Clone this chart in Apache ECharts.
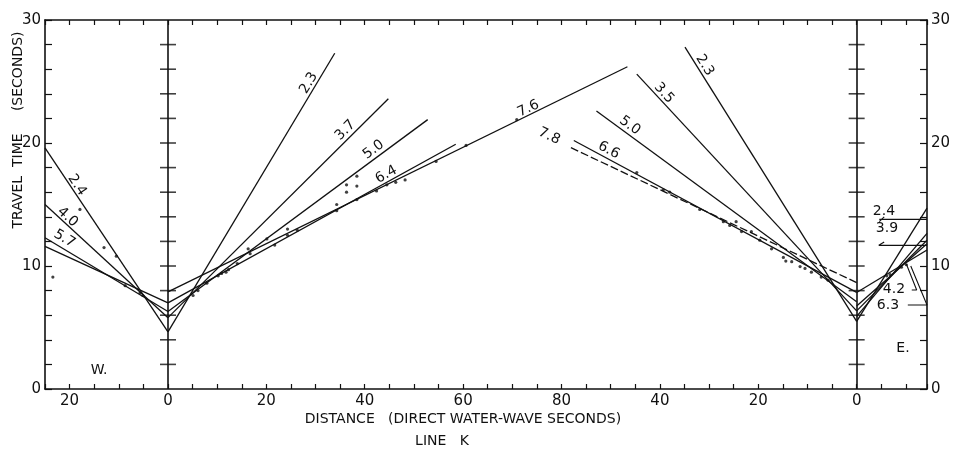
<!DOCTYPE html>
<html>
<head>
<meta charset="utf-8">
<script src="https://cdn.jsdelivr.net/npm/echarts@6/dist/echarts.min.js"></script>
<style>
  html, body { margin: 0; padding: 0; background: #fff; }
  #chart { width: 954px; height: 450px; }
</style>
</head>
<body>
<div id="chart"></div>
<script>
// Line K travel-time profile. Distances are in direct water-wave seconds,
// measured from the W shot point (0) and from the E shot point (140 further on).
const SHOT_W = 0;
const SHOT_E = 140;

// West branch (recorded west of the W shot point), ends at the plot edge (25 s)
const westVelocity  = ['2.4', '4.0', '5.7', ''];
const westIntercept = [4.65, 5.8, 6.3, 7.0];
const westEndDist   = [25, 25, 25, 25];
const westEndTime   = [19.6, 15.0, 12.3, 11.6];

// Forward branch from the W shot point, towards the east
const fwdVelocity  = ['2.3', '3.7', '5.0', '6.4', '7.6'];
const fwdIntercept = [4.65, 5.8, 6.3, 7.0, 7.9];
const fwdEndDist   = [33.9, 44.8, 52.8, 58.5, 93.4];
const fwdEndTime   = [27.3, 23.6, 21.9, 19.9, 26.2];

// Reverse branch from the E shot point, towards the west (last one dashed)
const revVelocity  = ['2.3', '3.5', '5.0', '6.6', '7.8'];
const revIntercept = [5.5, 6.35, 7.1, 7.85, 8.65];
const revEndDist   = [34.9, 44.7, 52.9, 57.5, 58.5];
const revEndTime   = [27.8, 25.6, 22.6, 20.2, 19.7];

// East branch (recorded east of the E shot point), ends at the plot edge
const eastVelocity  = ['2.4', '', '3.9', '4.2', '6.3'];
const eastIntercept = [5.5, 5.9, 6.35, 6.75, 7.85];
const eastEndDist   = [14.3, 14.3, 14.3, 14.3, 14.3];
const eastEndTime   = [14.7, 12.65, 12.1, 11.8, 11.3];

// Observed arrivals: [distance from own shot point, travel time]
const westDots = [[23.4, 9.1], [17.9, 14.6], [13.0, 11.5], [10.5, 10.8], [8.7, 8.4],
  [5.7, 7.8], [5.1, 7.6]];
const fwdDots = [[5.1, 7.6], [6.1, 8.0], [7.9, 8.6], [10.2, 9.2], [10.9, 9.4], [11.8, 9.5],
  [12.3, 9.7], [14.1, 10.2], [16.3, 11.4], [16.7, 11.0], [20.1, 12.2], [21.7, 11.7],
  [24.3, 13.0], [24.3, 12.5], [26.3, 12.9], [34.3, 15.0], [34.3, 14.5], [36.3, 16.6],
  [36.3, 16.0], [38.4, 17.3], [38.4, 16.5], [38.4, 15.4], [42.4, 16.1], [44.5, 16.6],
  [46.3, 16.8], [48.2, 17.0], [54.5, 18.5], [60.6, 19.8], [70.9, 21.9]];
const revDots = [[44.7, 17.6], [39.3, 16.2], [38.0, 16.0], [31.9, 14.6], [27.1, 13.6],
  [25.8, 13.3], [24.5, 13.6], [23.4, 12.8], [21.4, 12.8], [19.7, 12.1], [17.3, 11.4],
  [14.9, 10.7], [14.4, 10.4], [13.2, 10.35], [11.5, 9.95], [10.5, 9.8], [9.2, 9.5],
  [7.2, 9.1], [5.8, 8.85]];
const eastDots = [[6.1, 9.2], [6.8, 9.3], [9.1, 9.9], [10.1, 10.1]];

// Bottom axis tick labels
const xTickPos   = [-20, 0, 20, 40, 60, 80, 100, 120, 140];
const xTickLabel = ['20', '0', '20', '40', '60', '80', '40', '20', '0'];
const yTickLabel = [0, 10, 20, 30];

// Position of each velocity label along its line: fraction from the left end, offset in px
const westLabelAt = [[0.22, 6], [0.15, 6], [0.12, 9], null];
const fwdLabelAt  = [[0.88, 7], [0.83, 8], [0.81, 8], [0.77, 7], [0.79, 6]];
const revLabelAt  = [[0.08, 7], [0.10, 7], [0.11, 8], [0.11, 8], [-0.07, 1]];

const FONT = '"DejaVu Sans", sans-serif';
const INK = '#111';

// Place each branch on the common distance axis
const toAxisW = d => SHOT_W - d;
const toAxisF = d => SHOT_W + d;
const toAxisR = d => SHOT_E - d;
const toAxisE = d => SHOT_E + d;

const segments = [];   // {from, to, dashed}
const labelItems = []; // [x0, t0, x1, t1, frac, offset]
const labelTexts = [];

function addBranch(vel, icpt, endD, endT, toAxis, origin, labelAt, dashedIdx) {
  vel.forEach((v, i) => {
    const a = [origin, icpt[i]];
    const b = [toAxis(endD[i]), endT[i]];
    segments.push({ from: a, to: b, dashed: i === dashedIdx });
    if (v && labelAt && labelAt[i]) {
      labelItems.push([a[0], a[1], b[0], b[1], labelAt[i][0], labelAt[i][1]]);
      labelTexts.push(v);
    }
  });
}
addBranch(westVelocity, westIntercept, westEndDist, westEndTime, toAxisW, SHOT_W, westLabelAt, -1);
addBranch(fwdVelocity, fwdIntercept, fwdEndDist, fwdEndTime, toAxisF, SHOT_W, fwdLabelAt, -1);
addBranch(revVelocity, revIntercept, revEndDist, revEndTime, toAxisR, SHOT_E, revLabelAt, 4);
addBranch(eastVelocity, eastIntercept, eastEndDist, eastEndTime, toAxisE, SHOT_E, null, -1);

const dots = [].concat(
  westDots.map(p => [toAxisW(p[0]), p[1]]),
  fwdDots.map(p => [toAxisF(p[0]), p[1]]),
  revDots.map(p => [toAxisR(p[0]), p[1]]),
  eastDots.map(p => [toAxisE(p[0]), p[1]])
);

// Leader lines tying the east-side velocity labels to their lines
const eastLeaders = [
  [[144.6, 13.6], [145.6, 14.0]],
  [[144.6, 13.79], [154.3, 13.79]],
  [[145.6, 11.95], [144.5, 11.68], [154.3, 11.68]],
  [[150.1, 10.16], [152.2, 8.05], [151.2, 8.05]],
  [[151.0, 10.0], [154.3, 6.83], [150.4, 6.83]]
];
const eastLabels = [
  { text: '2.4', x: 884, y: 211 },
  { text: '3.9', x: 887, y: 228 },
  { text: '4.2', x: 894, y: 289 },
  { text: '6.3', x: 888, y: 305 }
];

// Cross ticks on the two shot-point verticals, every axis interval
const Y_INTERVAL = 2;
const shotTicks = [];
[SHOT_W, SHOT_E].forEach(x => {
  for (let t = Y_INTERVAL; t < 30; t += Y_INTERVAL) shotTicks.push([x, t]);
});

const series = [];
segments.forEach(s => {
  series.push({
    type: 'line', data: [s.from, s.to], symbol: 'none', silent: true,
    animation: false, clip: true,
    lineStyle: { color: INK, width: 1.3, type: s.dashed ? [8, 3] : 'solid' }
  });
});
eastLeaders.forEach(l => {
  series.push({
    type: 'line', data: l, symbol: 'none', silent: true, animation: false,
    lineStyle: { color: INK, width: 1.1 }
  });
});
series.push({
  type: 'scatter', data: dots, symbol: 'circle', symbolSize: 3.2, silent: true,
  animation: false, itemStyle: { color: INK }
});
series.push({
  type: 'scatter', data: shotTicks, symbol: 'rect', symbolSize: [16, 1.6],
  silent: true, animation: false, itemStyle: { color: INK },
  markLine: {
    silent: true, symbol: 'none', animation: false, label: { show: false },
    lineStyle: { color: INK, width: 1.6, type: 'solid' },
    data: [{ xAxis: SHOT_W }, { xAxis: SHOT_E }]
  }
});
series.push({
  type: 'custom', data: labelItems, silent: true, animation: false, clip: false,
  renderItem: function (params, api) {
    let p0 = api.coord([api.value(0), api.value(1)]);
    let p1 = api.coord([api.value(2), api.value(3)]);
    if (p1[0] < p0[0]) { const tmp = p0; p0 = p1; p1 = tmp; }
    const dx = p1[0] - p0[0], dy = p1[1] - p0[1];
    const len = Math.hypot(dx, dy);
    const ux = dx / len, uy = dy / len;
    const nx = uy, ny = -ux;
    const f = api.value(4), off = api.value(5);
    return {
      type: 'text',
      x: p0[0] + dx * f + nx * off,
      y: p0[1] + dy * f + ny * off,
      rotation: Math.atan2(-dy, dx),
      style: {
        text: labelTexts[params.dataIndex], fill: INK,
        font: '14px ' + FONT, align: 'center', verticalAlign: 'middle'
      }
    };
  }
});

const xCommon = {
  type: 'value', min: -25, max: 154.3, interval: 5,
  axisLine: { show: true, onZero: false, lineStyle: { color: INK, width: 1.6 } },
  axisTick: { show: true, inside: true, length: 5, lineStyle: { color: INK, width: 1.2 } },
  splitLine: { show: false }
};
const yCommon = {
  type: 'value', min: 0, max: 30, interval: Y_INTERVAL,
  axisLine: { show: true, onZero: false, lineStyle: { color: INK, width: 1.6 } },
  axisTick: { show: true, inside: true, length: 7, lineStyle: { color: INK, width: 1.2 } },
  splitLine: { show: false }
};
const yLabel = {
  show: true, color: INK, fontSize: 15, fontFamily: FONT, margin: 4,
  formatter: v => (yTickLabel.indexOf(v) >= 0 ? String(v) : '')
};

const chart = echarts.init(document.getElementById('chart'), null, { renderer: 'canvas' });
chart.setOption({
  backgroundColor: '#fff',
  animation: false,
  grid: { left: 45, right: 27, top: 20, bottom: 61 },
  xAxis: [
    Object.assign({}, xCommon, {
      position: 'bottom',
      axisLabel: {
        show: true, interval: 0, color: INK, fontSize: 15, fontFamily: FONT, margin: 5,
        showMinLabel: true, showMaxLabel: true,
        formatter: v => {
          const i = xTickPos.findIndex(p => Math.abs(p - v) < 1e-6);
          return i >= 0 ? xTickLabel[i] : '';
        }
      }
    }),
    Object.assign({}, xCommon, { position: 'top', axisLabel: { show: false } })
  ],
  yAxis: [
    Object.assign({}, yCommon, { position: 'left', axisLabel: yLabel }),
    Object.assign({}, yCommon, { position: 'right', axisLabel: yLabel })
  ],
  graphic: [
    {
      type: 'text', x: 18, y: 130, rotation: Math.PI / 2,
      style: { text: 'TRAVEL  TIME     (SECONDS)', font: '14px ' + FONT, fill: INK,
               align: 'center', verticalAlign: 'middle' }
    },
    {
      type: 'text', x: 463, y: 419,
      style: { text: 'DISTANCE   (DIRECT WATER-WAVE SECONDS)', font: '14px ' + FONT, fill: INK,
               align: 'center', verticalAlign: 'middle' }
    },
    {
      type: 'text', x: 442, y: 441,
      style: { text: 'LINE   K', font: '14px ' + FONT, fill: INK,
               align: 'center', verticalAlign: 'middle' }
    },
    {
      type: 'text', x: 99, y: 370,
      style: { text: 'W.', font: '14px ' + FONT, fill: INK, align: 'center', verticalAlign: 'middle' }
    },
    {
      type: 'text', x: 903, y: 348,
      style: { text: 'E.', font: '14px ' + FONT, fill: INK, align: 'center', verticalAlign: 'middle' }
    }
  ].concat(eastLabels.map(l => ({
    type: 'text', x: l.x, y: l.y,
    style: { text: l.text, font: '14px ' + FONT, fill: INK, align: 'center', verticalAlign: 'middle' }
  }))),
  series: series
});
</script>
</body>
</html>
